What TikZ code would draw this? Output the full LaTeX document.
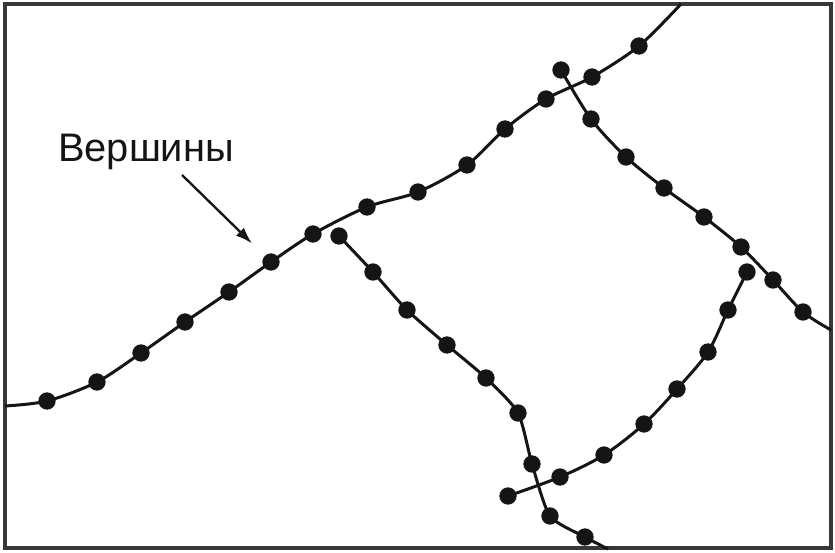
\documentclass[tikz,border=0pt]{standalone}
\usepackage{fontspec}
\setmainfont{Liberation Sans}
\usepackage{tikz}
\usetikzlibrary{arrows.meta, positioning}
\definecolor{inkblack}{HTML}{151515}

\begin{document}
\begin{tikzpicture}[
  x=0.3mm, y=-0.3mm,
  vertex/.style={circle, fill=inkblack, inner sep=0pt, minimum size=5.2mm},
  road/.style={line width=0.9mm, color=inkblack, line join=round},
  frame/.style={line width=1mm, color=inkblack!85},
  pointer/.style={-{Latex[length=5mm, width=3.4mm]}, line width=0.7mm, color=inkblack},
  caption/.style={font=\fontsize{34}{40}\selectfont, text=inkblack, inner sep=0pt},
]
\useasboundingbox (0,0) rectangle (835,553);
\draw[frame] (5,4) rectangle (831,548);

% main road, left edge to top edge
\coordinate (a0) at (5,406);
\coordinate (a15) at (681,4);
\foreach \x/\y [count=\i] in {47/401, 97/382, 141/353, 185/322, 229/292, 271/262, 313/234, 367/207, 418/192, 467/165, 505/129, 546/99, 592/77, 639/46}
  \node[vertex] (a\i) at (\x,\y) {};

% second road, down to the bottom edge
\coordinate (b10) at (608,549);
\foreach \x/\y [count=\i] in {339/236, 373/272, 407/310, 447/345, 486/378, 518/413, 532/464, 550/516, 585/537}
  \node[vertex] (b\i) at (\x,\y) {};

% third road, bottom crossing
\foreach \x/\y [count=\i] in {508/496, 560/477, 604/455, 644/424, 677/389, 708/352, 728/310, 747/272}
  \node[vertex] (c\i) at (\x,\y) {};

% fourth road, down to the right edge
\coordinate (d9) at (831,330);
\foreach \x/\y [count=\i] in {561/70, 591/119, 626/157, 664/188, 704/217, 741/247, 773/280, 803/312}
  \node[vertex] (d\i) at (\x,\y) {};

\draw[road] plot[smooth, tension=0.5] coordinates {(a0) (a1.center) (a2.center) (a3.center) (a4.center) (a5.center) (a6.center) (a7.center) (a8.center) (a9.center) (a10.center) (a11.center) (a12.center) (a13.center) (a14.center) (a15)};
\draw[road] plot[smooth, tension=0.4] coordinates {(b1.center) (b2.center) (b3.center) (b4.center) (b5.center) (b6.center) (b7.center) (b8.center) (b9.center) (b10)};
\draw[road] plot[smooth, tension=0.5] coordinates {(c1.center) (c2.center) (c3.center) (c4.center) (c5.center) (c6.center) (c7.center) (c8.center)};
\draw[road] plot[smooth, tension=0.5] coordinates {(d1.center) (d2.center) (d3.center) (d4.center) (d5.center) (d6.center) (d7.center) (d8.center) (d9)};

\node[caption] (lbl) at (146,152) {Вершины};
\coordinate (tail) at (182,175);
\draw[pointer, shorten >=5.3mm] (tail) -- (a6);
\end{tikzpicture}
\end{document}
